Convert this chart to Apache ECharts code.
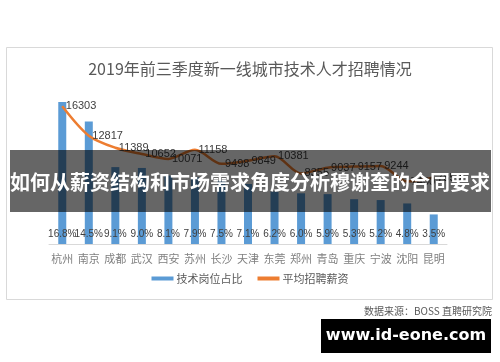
<!DOCTYPE html>
<html>
<head>
<meta charset="utf-8">
<script src="https://cdn.jsdelivr.net/npm/echarts@6/dist/echarts.min.js"></script>
<style>html,body{margin:0;padding:0;background:#fff;}#c{width:500px;height:362px;}</style>
</head>
<body>
<div id="c"></div>
<script>
const cities = ['杭州','南京','成都','武汉','西安','苏州','长沙','天津','东莞','郑州','青岛','重庆','宁波','沈阳','昆明'];
const techShare = [16.8,14.5,9.1,9.0,8.1,7.9,7.5,7.1,6.2,6.0,5.9,5.3,5.2,4.8,3.5];
const avgSalary = [16303,12817,11389,10652,10071,11158,9498,9849,10381,8355,9037,9157,9244,7400,7859];
const titleText = '2019年前三季度新一线城市技术人才招聘情况';
const seriesNames = ['技术岗位占比','平均招聘薪资'];
const sourceText = '数据来源：BOSS 直聘研究院';
const bannerText = '如何从薪资结构和市场需求角度分析穆谢奎的合同要求';
const watermarkText = 'www.id-eone.com';

const chart = echarts.init(document.getElementById('c'));
const cjk = '"Noto Sans CJK SC", "Noto Sans", sans-serif';
chart.setOption({
  animation: false,
  backgroundColor: '#fff',
  title: {
    text: titleText, left: 'center', top: 56,
    textStyle: {fontFamily: cjk, fontSize: 16, fontWeight: 'normal', color: '#595959'}
  },
  legend: {
    bottom: 73, left: 'center', itemWidth: 22, itemHeight: 4, itemGap: 15,
    textStyle: {fontFamily: cjk, fontSize: 11, color: '#595959', padding: [0,0,0,-2]},
    data: [{name: seriesNames[0], icon: 'rect'}, {name: seriesNames[1], icon: 'rect'}]
  },
  grid: {left: 49, right: 53, top: 75, bottom: 118, containLabel: false},
  xAxis: {
    type: 'category', data: cities,
    axisLine: {lineStyle: {color: '#d9d9d9'}},
    axisTick: {show: false},
    axisLabel: {interval: 0, fontFamily: cjk, fontSize: 11, color: '#7f7f7f', margin: 9}
  },
  yAxis: [
    {type: 'value', min: 0, max: 20, show: false, splitLine: {show: false}},
    {type: 'value', min: 0, max: 20000, show: false, splitLine: {show: false}}
  ],
  series: [
    {
      name: seriesNames[0], type: 'bar', data: techShare, barWidth: 8, yAxisIndex: 0,
      itemStyle: {color: '#5b9bd5'},
      label: {show: true, position: 'insideBottom', distance: 5,
        formatter: p => p.value.toFixed(1) + '%',
        fontFamily: '"Liberation Sans", sans-serif', fontSize: 10, color: '#404040'}
    },
    {
      name: seriesNames[1], type: 'line', data: avgSalary, yAxisIndex: 1,
      smooth: 0.3, showSymbol: true, symbol: 'circle', symbolSize: 1,
      lineStyle: {color: '#ed7d31', width: 2.5},
      itemStyle: {color: '#ed7d31'},
      label: {show: true, position: 'right', distance: 3,
        fontFamily: '"Liberation Sans", sans-serif', fontSize: 11, color: '#404040'}
    }
  ],
  graphic: [
    {type: 'rect', z: -10, shape: {x: 6.5, y: 47.5, width: 486, height: 252},
      style: {fill: 'none', stroke: '#d9d9d9', lineWidth: 1}},
    {type: 'text', z: 10, right: 8, top: 306,
      style: {text: sourceText, fontFamily: cjk, fontSize: 10, fill: '#595959'}},
    {type: 'rect', z: 100, shape: {x: 10, y: 150, width: 481, height: 62},
      style: {fill: 'rgba(0,0,0,0.6)'}},
    {type: 'text', z: 101, x: 250, y: 182,
      style: {text: bannerText, fontFamily: cjk, fontSize: 20, fontWeight: 'bold', fill: '#fff',
        align: 'center', verticalAlign: 'middle'}},
    {type: 'rect', z: 100, shape: {x: 321, y: 319, width: 170, height: 34},
      style: {fill: '#000'}},
    {type: 'text', z: 101, x: 406, y: 336,
      style: {text: watermarkText, fontFamily: '"DejaVu Sans", sans-serif', fontSize: 16, fontWeight: 'bold', fill: '#fff',
        align: 'center', verticalAlign: 'middle'}}
  ]
});
</script>
</body>
</html>
